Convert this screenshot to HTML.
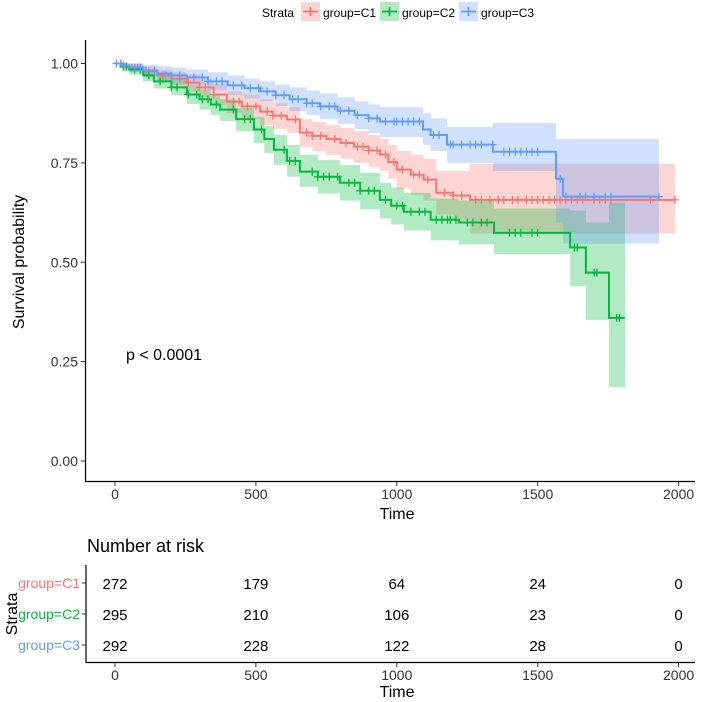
<!DOCTYPE html>
<html><head><meta charset="utf-8"><style>
body{margin:0;background:#fff;}
svg{display:block;font-family:"Liberation Sans",sans-serif;}
</style></head><body>
<svg id="chart" width="709" height="702" viewBox="0 0 709 702"></svg>
<script>
const groups = ["C1","C2","C3"];
const colors = ["#F8766D","#00BA38","#619CFF"];
const timesC1 = [0,25,50,100,150,200,255,300,350,397,450,515,560,610,656,700,750,800,848,900,940,970,1000,1050,1095,1140,1200,1260,1987];
const survC1  = [1,.995,.99,.98,.97,.962,.952,.94,.922,.904,.892,.879,.869,.859,.826,.818,.81,.80,.791,.781,.771,.752,.733,.72,.708,.675,.668,.657,.657];
const loC1    = [1,.99,.98,.968,.955,.945,.93,.915,.895,.875,.86,.845,.835,.825,.79,.78,.77,.76,.75,.74,.73,.71,.685,.67,.655,.62,.605,.572,.572];
const hiC1    = [1,1,1,.992,.985,.978,.972,.962,.948,.93,.922,.91,.9,.89,.86,.853,.845,.838,.83,.82,.81,.795,.78,.77,.76,.73,.73,.748,.748];
const timesC2 = [0,25,50,100,138,200,255,300,340,373,430,493,530,564,610,656,720,798,870,940,980,1025,1120,1220,1345,1615,1671,1753,1810];
const survC2  = [1,.992,.985,.97,.955,.94,.922,.91,.897,.884,.86,.834,.81,.783,.755,.728,.715,.70,.68,.657,.642,.627,.607,.60,.574,.537,.474,.36,.36];
const loC2    = [1,.982,.972,.955,.937,.92,.898,.884,.87,.855,.83,.80,.775,.745,.715,.69,.673,.655,.633,.61,.595,.58,.555,.545,.52,.44,.355,.186,.186];
const hiC2    = [1,1,.995,.985,.973,.96,.945,.935,.922,.91,.888,.865,.843,.82,.795,.77,.757,.745,.725,.70,.688,.675,.66,.655,.635,.63,.60,.65,.65];
const timesC3 = [0,25,50,100,150,200,255,330,400,460,515,570,620,680,727,790,850,900,940,1093,1120,1178,1341,1565,1590,1930];
const survC3  = [1,.995,.99,.982,.975,.97,.965,.955,.945,.938,.93,.92,.91,.90,.892,.881,.87,.862,.854,.834,.82,.796,.778,.71,.665,.665];
const loC3    = [1,.988,.978,.965,.955,.95,.945,.932,.92,.912,.905,.893,.88,.87,.86,.848,.835,.825,.815,.795,.78,.75,.73,.60,.547,.547];
const hiC3    = [1,1,1,.997,.993,.99,.985,.978,.97,.962,.955,.947,.94,.932,.925,.915,.905,.897,.89,.875,.862,.84,.85,.81,.81,.81];
const censC1 = [20,60,80,110,120,170,180,230,260,300,320,350,420,440,470,500,540,560,590,640,680,700,730,780,820,860,880,900,930,960,990,1020,1060,1080,1110,1170,1200,1230,1280,1300,1330,1360,1380,1410,1430,1460,1480,1500,1520,1540,1560,1580,1600,1620,1640,1660,1700,1720,1740,1760,1900,1987];
const censC2 = [30,40,70,90,120,160,200,220,260,290,310,330,360,420,460,480,520,600,620,640,700,720,740,760,790,830,850,870,900,920,960,1000,1020,1050,1080,1100,1140,1160,1180,1190,1210,1250,1270,1300,1320,1400,1420,1440,1480,1500,1630,1640,1700,1710,1780,1790];
const censC3 = [5,30,70,90,110,140,200,230,280,310,330,360,380,420,450,480,510,540,570,600,630,650,680,700,730,760,780,800,830,860,900,930,960,990,1000,1020,1040,1060,1080,1130,1150,1190,1200,1230,1260,1280,1300,1340,1380,1400,1420,1440,1460,1480,1500,1580,1600,1650,1670,1700,1740,1760,1930];
const allTimes=[timesC1,timesC2,timesC3], allSurv=[survC1,survC2,survC3], allLo=[loC1,loC2,loC3], allHi=[hiC1,hiC2,hiC3], allCens=[censC1,censC2,censC3];
const xTicks = [0,500,1000,1500,2000];
const yTicks = [0,0.25,0.5,0.75,1];
const yTickLabels = ["0.00","0.25","0.50","0.75","1.00"];
const riskC1 = [272,179,64,24,0];
const riskC2 = [295,210,106,23,0];
const riskC3 = [292,228,122,28,0];
const allRisk=[riskC1,riskC2,riskC3];

const NS="http://www.w3.org/2000/svg";
const svg=document.getElementById('chart');
const X=t=>115+t*0.2818;
const Y=s=>461-s*397.5;
function el(tag,attrs,txt){const e=document.createElementNS(NS,tag);for(const k in attrs)e.setAttribute(k,attrs[k]);if(txt!==undefined)e.textContent=txt;svg.appendChild(e);return e;}
function stepPath(ts,vs){let d=`M${X(ts[0])},${Y(vs[0])}`;for(let i=1;i<ts.length;i++){d+=`H${X(ts[i])}V${Y(vs[i])}`;}return d;}
function bandPath(ts,lo,hi){let d=`M${X(ts[0])},${Y(hi[0])}`;for(let i=1;i<ts.length;i++)d+=`H${X(ts[i])}V${Y(hi[i])}`;d+=`V${Y(lo[lo.length-1])}`;for(let i=ts.length-1;i>0;i--)d+=`H${X(ts[i])}V${Y(lo[i-1])}`;d+=`H${X(ts[0])}Z`;return d;}
function survAt(ts,vs,t){let v=vs[0];for(let i=0;i<ts.length;i++){if(ts[i]<=t)v=vs[i];}return v;}

for(let g=0;g<3;g++){
  const b=el('path',{d:bandPath(allTimes[g],allLo[g],allHi[g]),fill:colors[g],'fill-opacity':0.3,stroke:'none'});
  
  
}
for(let g=0;g<3;g++){
  const p=el('path',{d:stepPath(allTimes[g],allSurv[g]),fill:'none',stroke:colors[g],'stroke-width':2});
  
  
  allCens[g].forEach(t=>{
    const x=X(t),y=Y(survAt(allTimes[g],allSurv[g],t));
    const c=el('path',{d:`M${x-4},${y}H${x+4}M${x},${y-4}V${y+4}`,stroke:colors[g],'stroke-width':1.3});
    
    
  });
}
let a=el('path',{d:'M85.5,40V481.5H695',fill:'none',stroke:'#000','stroke-width':1.2});


yTicks.forEach((v,i)=>{
  const t=el('line',{x1:81,x2:85,y1:Y(v),y2:Y(v),stroke:'#333'});
  
  
  const l=el('text',{x:78,y:Y(v)+5,'text-anchor':'end','font-size':14,fill:'#333'},yTickLabels[i]);
  
  
});
xTicks.forEach(v=>{
  const t=el('line',{x1:X(v),x2:X(v),y1:481.5,y2:486,stroke:'#333'});
  
  
  const l=el('text',{x:X(v),y:499,'text-anchor':'middle','font-size':14,fill:'#333'},String(v));
  
  
});
let tt=el('text',{x:397,y:519,'text-anchor':'middle','font-size':16,fill:'#000'},'Time');


let yt=el('text',{x:0,y:0,transform:'translate(24,262) rotate(-90)','text-anchor':'middle','font-size':16,fill:'#000'},'Survival probability');


let pv=el('text',{x:126,y:360,'font-size':16,fill:'#000'},'p < 0.0001');



let st=el('text',{x:262,y:17,'font-size':12,fill:'#000'},'Strata');


const keyX=[301,380,459];
for(let g=0;g<3;g++){
  const r=el('rect',{x:keyX[g],y:2,width:19,height:19,fill:colors[g],'fill-opacity':0.3});
  
  
  const ln=el('path',{d:`M${keyX[g]+2},11.5H${keyX[g]+17}M${keyX[g]+9.5},7V16`,stroke:colors[g],'stroke-width':1.8});
  
  
  const lt=el('text',{x:keyX[g]+22,y:17,'font-size':12,fill:'#000'},'group='+groups[g]);
  
  
}

let nt=el('text',{x:87,y:552,'font-size':18,fill:'#000'},'Number at risk');


let ra=el('path',{d:'M86,565V662.5H695',fill:'none',stroke:'#000','stroke-width':1.2});


const rowY=[583,614,645];
for(let g=0;g<3;g++){
  const lab=el('text',{x:80,y:rowY[g]+5,'text-anchor':'end','font-size':14,fill:colors[g]},'group='+groups[g]);
  
  
  const tk=el('line',{x1:82,x2:86,y1:rowY[g],y2:rowY[g],stroke:'#333'});
  
  
  allRisk[g].forEach((n,i)=>{
    const c=el('text',{x:X(xTicks[i]),y:rowY[g]+6,'text-anchor':'middle','font-size':15,fill:'#000'},String(n));
    
    
  });
}
let rs=el('text',{x:0,y:0,transform:'translate(17,614) rotate(-90)','text-anchor':'middle','font-size':16,fill:'#000'},'Strata');


xTicks.forEach(v=>{
  const t=el('line',{x1:X(v),x2:X(v),y1:662.5,y2:667,stroke:'#333'});
  
  
  const l=el('text',{x:X(v),y:680,'text-anchor':'middle','font-size':14,fill:'#333'},String(v));
  
  
});
let rt=el('text',{x:397,y:697,'text-anchor':'middle','font-size':16,fill:'#000'},'Time');


</script>
</body></html>
